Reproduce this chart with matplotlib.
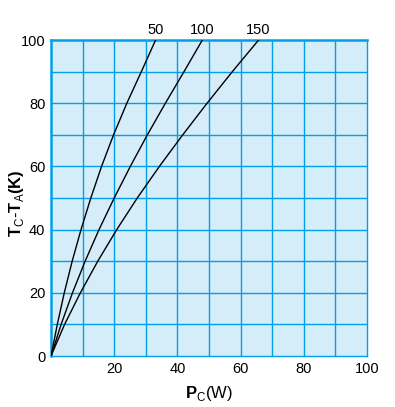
import matplotlib.pyplot as plt

plt.rcParams['font.family'] = ['Liberation Sans', 'DejaVu Sans']
plt.rcParams['mathtext.fontset'] = 'custom'
plt.rcParams['mathtext.rm'] = 'Liberation Sans'
plt.rcParams['mathtext.bf'] = 'Liberation Sans:bold'

# --------DATA--------
temp_rise = [0, 10, 20, 30, 40, 50, 60, 70, 80, 90, 100]  # Tc-Ta [K]
power_50 = [0, 2.0, 4.2, 6.7, 9.5, 12.6, 16.0, 19.8, 24.0, 28.6, 33.1]
power_100 = [0, 3.2, 6.8, 10.8, 15.2, 20.0, 25.1, 30.5, 36.2, 42.1, 47.9]
power_150 = [0, 4.3, 9.3, 14.8, 20.8, 27.3, 34.3, 41.7, 49.4, 57.4, 65.7]
curve_names = ['50', '100', '150']

x_ticks = [20, 40, 60, 80, 100]
y_ticks = [0, 20, 40, 60, 80, 100]

grid_color = '#00A0E9'

fig = plt.figure(figsize=(3.95, 4.07), dpi=100)
ax = fig.add_axes([51 / 395, 1 - 356 / 407, 316 / 395, 316 / 407])
ax.set_facecolor('#D5ECF9')

for k in range(1, 10):
    ax.axvline(k * 10, color=grid_color, linewidth=1.0, zorder=1)
    ax.axhline(k * 10, color=grid_color, linewidth=1.0, zorder=1)

for pw, name in zip([power_50, power_100, power_150], curve_names):
    ax.plot(pw, temp_rise, '-', color='black', linewidth=1.0, zorder=3)
    ax.text(pw[-1], 100.9, name, ha='center', va='bottom', fontsize=10.5)

ax.set_xlim(0, 100)
ax.set_ylim(0, 100)
ax.set_xticks(x_ticks)
ax.set_yticks(y_ticks)
ax.tick_params(length=0, labelsize=10.5, pad=4)

for side in ['left', 'top']:
    ax.spines[side].set_color(grid_color)
    ax.spines[side].set_linewidth(1.8)
for side in ['bottom', 'right']:
    ax.spines[side].set_color(grid_color)
    ax.spines[side].set_linewidth(1.0)

ax.set_xlabel(r'$\mathbf{P}_{\mathrm{C}}\mathrm{(W)}$', fontsize=12, labelpad=6)
fig.text(16 / 395, 1 - 203 / 407,
         r'$\mathbf{T}_{\mathrm{C}}\mathbf{\text{-}T}_{\mathrm{A}}\mathbf{(K)}$',
         fontsize=12, rotation=90, ha='center', va='center')

fig.savefig('out.png', dpi=100)
